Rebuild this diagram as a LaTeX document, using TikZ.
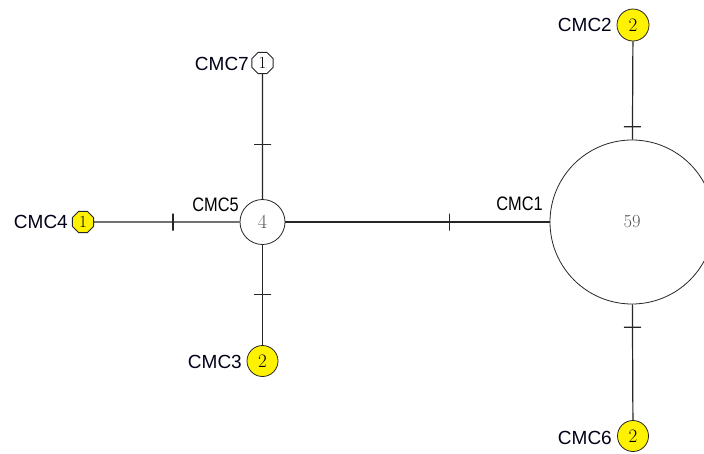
\documentclass[tikz,border=0pt]{standalone}
\usepackage{fontspec}
\setsansfont{Liberation Sans}
\usetikzlibrary{shapes.geometric}
\begin{document}
\begin{tikzpicture}[x=1pt,y=-1pt,
  hap/.style={circle,draw=black!85,line width=0.8pt,inner sep=0pt,font=\fontsize{19}{19}\selectfont},
  oct/.style={regular polygon,regular polygon sides=8,draw=black!85,line width=0.8pt,inner sep=0pt,font=\fontsize{17}{17}\selectfont},
  yel/.style={fill=yellow},
  lab/.style={font=\sffamily\fontsize{19}{20}\selectfont,text=black!90!blue,inner sep=0pt,anchor=east},
  slab/.style={font=\sffamily\fontsize{19.5}{20}\selectfont,inner sep=0pt,anchor=east},
  link/.style={line width=1.2pt,draw=black!85},
  tick/.style={sloped,draw=black!85,line width=1.2pt,inner sep=0pt,minimum width=0pt,minimum height=17pt}]
\useasboundingbox (0,0) rectangle (704,453);
\clip (0,0) rectangle (704,453);
\fill[white] (0,0) rectangle (704,453);
% haplotype nodes
\node[hap, minimum size=164pt, text=black!65, font=\fontsize{18.5}{18.5}\selectfont] (c1) at (632,222) {59};
\node[hap, yel, minimum size=32pt] (c2) at (633,25) {2};
\node[hap, yel, minimum size=31pt] (c6) at (633,436) {2};
\node[hap, minimum size=45pt, text=black!65, font=\fontsize{20}{20}\selectfont] (c5) at (262.5,222) {4};
\node[oct, minimum size=23pt] (c7) at (262.5,63) {1};
\node[oct, yel, minimum size=23pt] (c4) at (83,222) {1};
\node[hap, yel, minimum size=31pt] (c3) at (262.5,361) {2};
% labels
\node[lab] (l7) at (249,64) {CMC7};
\node[lab] (l4) at (68,222) {CMC4};
\node[lab] (l3) at (242,362) {CMC3};
\node[lab] (l2) at (612,25) {CMC2};
\node[lab] (l6) at (612,438) {CMC6};
\node[slab] (l5) at (239,205) {\scalebox{0.84}[1]{CMC5}};
\node[slab] (l1) at (543,204) {\scalebox{0.84}[1]{CMC1}};
% connectors with mutation ticks
\draw[link] (c4) -- node[tick,pos=0.542] {} (c5);
\draw[link] (c5) -- node[tick,pos=0.621] {} (c1);
\draw[link] (c7) -- node[tick,pos=0.563] {} (c5);
\draw[link] (c5) -- node[tick,pos=0.495] {} (c3);
\draw[link] (c2) -- node[tick,pos=0.869] {} (c1);
\draw[link] (c1) -- node[tick,pos=0.197] {} (c6);
\end{tikzpicture}
\end{document}
